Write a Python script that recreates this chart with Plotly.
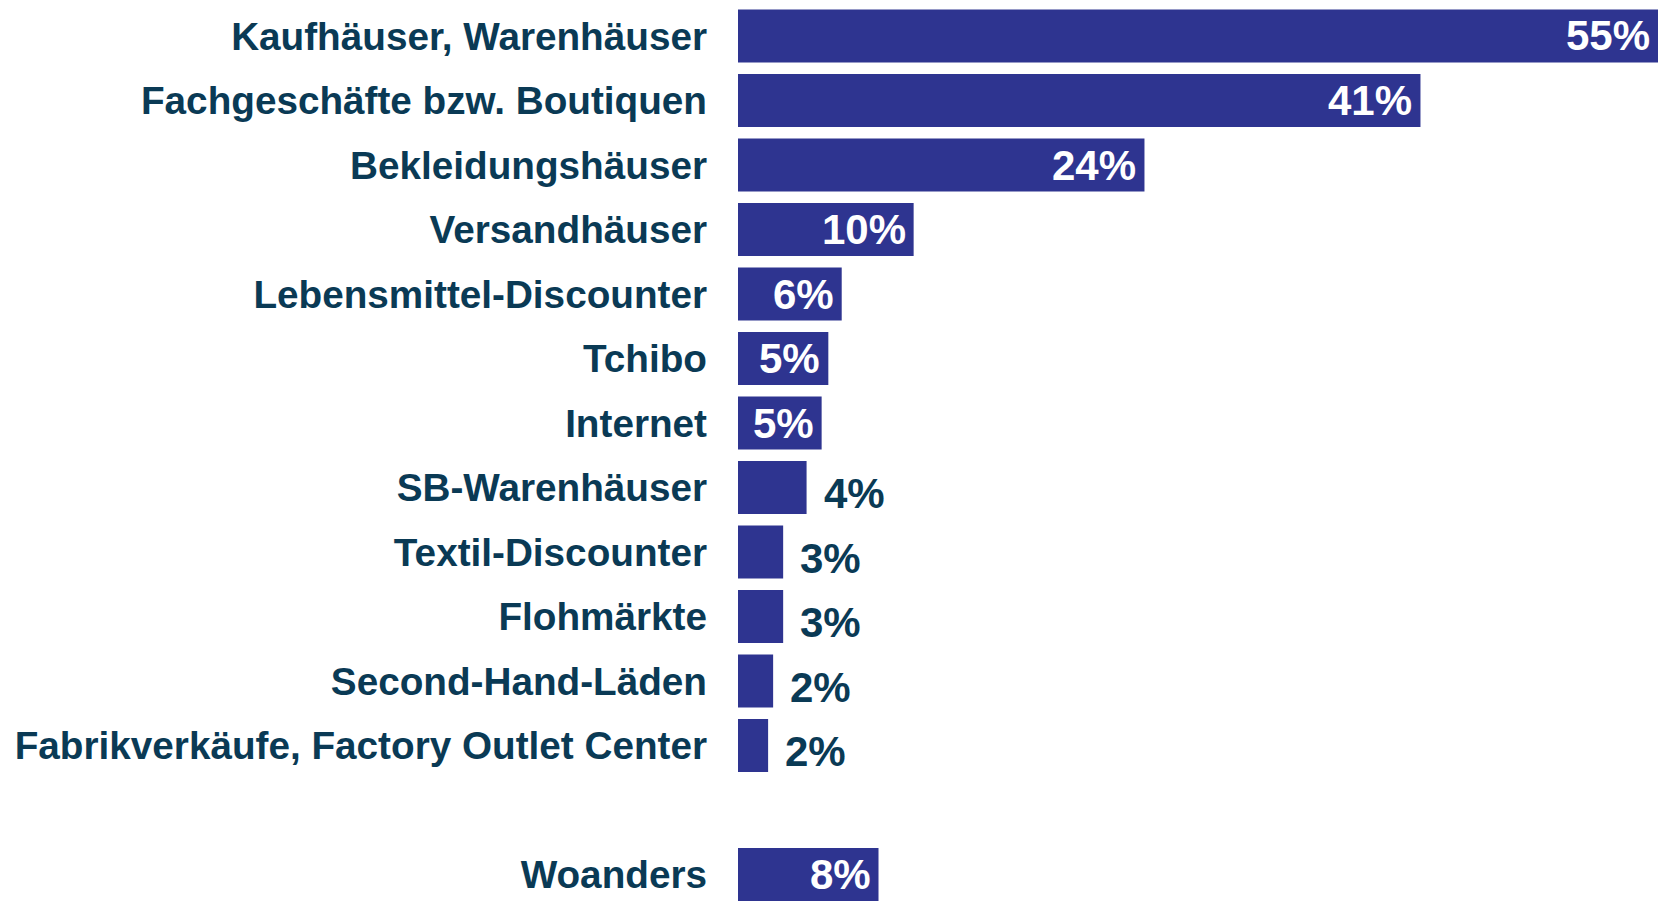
import plotly.graph_objects as go

categories = [
    "Kaufhäuser, Warenhäuser",
    "Fachgeschäfte bzw. Boutiquen",
    "Bekleidungshäuser",
    "Versandhäuser",
    "Lebensmittel-Discounter",
    "Tchibo",
    "Internet",
    "SB-Warenhäuser",
    "Textil-Discounter",
    "Flohmärkte",
    "Second-Hand-Läden",
    "Fabrikverkäufe, Factory Outlet Center",
    "Woanders",
]
values = [55.0, 40.8, 24.3, 10.5, 6.2, 5.4, 5.0, 4.1, 2.7, 2.7, 2.1, 1.8, 8.4]
value_labels = ["55%", "41%", "24%", "10%", "6%", "5%", "5%", "4%", "3%", "3%", "2%", "2%", "8%"]
inside = [True, True, True, True, True, True, True, False, False, False, False, False, True]

# row positions: a blank row separates "Woanders" from the rest
rows = list(range(12)) + [13]

BAR = "#2E3490"
TXT = "#0A3A55"
FONT = "Liberation Sans, Arial, sans-serif"

fig = go.Figure(
    go.Bar(
        x=values,
        y=rows,
        orientation="h",
        marker=dict(color=BAR, line=dict(width=0)),
        width=0.82,
        hoverinfo="skip",
    )
)

for v, r, lab, ins in zip(values, rows, value_labels, inside):
    if ins:
        fig.add_annotation(
            x=v, y=r, text=lab, showarrow=False, xanchor="right", yanchor="middle",
            xshift=-6, font=dict(family=FONT, size=42, color="white", weight="bold"),
        )
    else:
        fig.add_annotation(
            x=v, y=r, text=lab, showarrow=False, xanchor="left", yanchor="middle",
            xshift=15, yshift=-6, font=dict(family=FONT, size=42, color=TXT, weight="bold"),
        )

fig.update_layout(
    width=1658,
    height=901,
    margin=dict(l=738, r=0, t=0, b=0, autoexpand=False),
    paper_bgcolor="white",
    plot_bgcolor="white",
    showlegend=False,
    xaxis=dict(range=[0, 55.0], visible=False, fixedrange=True, automargin=False),
    yaxis=dict(
        range=[13.41, -0.558],
        tickmode="array",
        tickvals=rows,
        ticktext=categories,
        showgrid=False,
        zeroline=False,
        showline=False,
        ticks="",
        ticklabelstandoff=30,
        automargin=False,
        tickfont=dict(family=FONT, size=38.7, color=TXT, weight="bold"),
        fixedrange=True,
    ),
)

fig.write_html(
    "out.html",
    config={"displayModeBar": False},
    post_script="document.body.style.margin='0';document.body.style.overflow='hidden';",
)
